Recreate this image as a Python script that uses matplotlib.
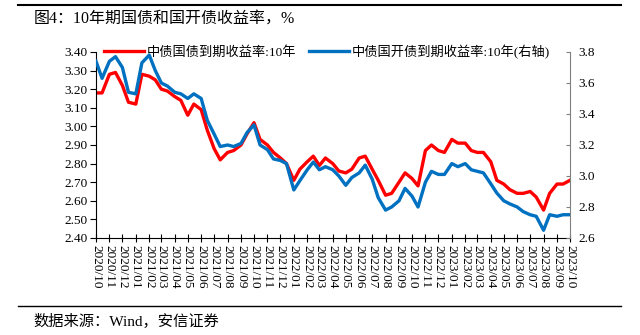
import matplotlib
matplotlib.use("Agg")
import matplotlib.pyplot as plt
import matplotlib.dates as mdates
import pandas as pd

# -----------------------------
# Data (half-month steps)
# -----------------------------
dates = pd.date_range("2020-10-01", "2023-10-01", freq="SMS")

# 中债国债到期收益率:10年 (left axis)
cgb_10y = [3.18, 3.18, 3.28, 3.29, 3.22, 3.13, 3.12, 3.28, 3.27, 3.25,
           3.20, 3.19, 3.16, 3.14, 3.06, 3.12, 3.09, 2.98, 2.88, 2.82,
           2.86, 2.87, 2.90, 2.96, 3.02, 2.93, 2.90, 2.86, 2.83, 2.80,
           2.71, 2.77, 2.81, 2.84, 2.79, 2.83, 2.80, 2.76, 2.75, 2.77,
           2.83, 2.84, 2.77, 2.71, 2.63, 2.64, 2.70, 2.75, 2.72, 2.68,
           2.87, 2.90, 2.87, 2.86, 2.93, 2.91, 2.91, 2.87, 2.86, 2.86,
           2.81, 2.71, 2.69, 2.66, 2.64, 2.64, 2.65, 2.62, 2.55, 2.64,
           2.69, 2.69, 2.71]

# 中债国开债到期收益率:10年 (right axis)
cdb_10y = [3.74, 3.63, 3.74, 3.77, 3.70, 3.54, 3.53, 3.73, 3.78, 3.68,
           3.60, 3.58, 3.54, 3.53, 3.50, 3.53, 3.50, 3.36, 3.27, 3.19,
           3.20, 3.19, 3.21, 3.28, 3.33, 3.20, 3.17, 3.11, 3.10, 3.08,
           2.91, 2.97, 3.04, 3.09, 3.04, 3.06, 3.04, 3.00, 2.94, 2.99,
           3.02, 3.07, 2.98, 2.86, 2.78, 2.80, 2.84, 2.92, 2.87, 2.80,
           2.96, 3.03, 3.01, 3.01, 3.08, 3.06, 3.08, 3.04, 3.03, 3.02,
           2.95, 2.89, 2.84, 2.82, 2.80, 2.77, 2.75, 2.74, 2.65, 2.75,
           2.74, 2.75, 2.75]

TITLE = "图4：10年期国债和国开债收益率，%"
SOURCE = "数据来源：Wind，安信证券"
LABEL_CGB = "中债国债到期收益率:10年"
LABEL_CDB = "中债国开债到期收益率:10年(右轴)"

RED = "#FF0000"
BLUE = "#0070C0"
FONTS = ["Liberation Serif", "Noto Sans CJK SC"]

plt.rcParams["font.family"] = FONTS

# -----------------------------
# Figure
# -----------------------------
fig = plt.figure(figsize=(6.4, 3.35), dpi=100)
ax = fig.add_axes([0.15, 0.2896, 0.7406, 0.5552])
ax2 = ax.twinx()

ln1, = ax.plot(dates, cgb_10y, color=RED, lw=2.4, solid_joinstyle="round")
ln2, = ax2.plot(dates, cdb_10y, color=BLUE, lw=2.4, solid_joinstyle="round")

ax.set_ylim(2.40, 3.40)
ax.set_yticks([2.40 + 0.1 * i for i in range(11)])
ax.yaxis.set_major_formatter(matplotlib.ticker.FormatStrFormatter("%.2f"))
ax2.set_ylim(2.6, 3.8)
ax2.set_yticks([2.6, 2.8, 3.0, 3.2, 3.4, 3.6, 3.8])
ax2.yaxis.set_major_formatter(matplotlib.ticker.FormatStrFormatter("%.1f"))

ax.set_xlim(pd.Timestamp("2020-10-01"), pd.Timestamp("2023-10-01"))
ax.xaxis.set_major_locator(mdates.MonthLocator())
ax.xaxis.set_major_formatter(mdates.DateFormatter("%Y/%m"))

for a in (ax, ax2):
    a.spines["top"].set_visible(False)
ax.spines["right"].set_visible(False)
ax2.spines["left"].set_visible(False)
ax2.spines["bottom"].set_visible(False)
ax2.spines["right"].set_color("#808080")

ax.tick_params(axis="y", direction="out", length=4, width=0.8, labelsize=9.5, pad=2)
ax.tick_params(axis="x", direction="inout", length=6, width=0.8, labelsize=9.5,
               labelrotation=270, pad=2)
ax2.tick_params(axis="y", direction="in", length=3, width=0.8, color="#808080",
                labelsize=9.5, pad=6)

for lbl in ax.get_xticklabels():
    lbl.set_va("top")
    lbl.set_ha("center")

# Legend across the top
fig.legend([ln1, ln2], [LABEL_CGB, LABEL_CDB], loc="center left", ncol=2,
           bbox_to_anchor=(0.163, 0.845), frameon=False,
           handlelength=3.0, handletextpad=0.2, columnspacing=1.0,
           borderaxespad=0, borderpad=0,
           prop={"family": FONTS, "size": 9.5})

# Title / source and separator lines
fig.text(0.052, 0.944, TITLE, fontsize=11.5, va="center", ha="left")
fig.text(0.052, 0.040, SOURCE, fontsize=11, va="center", ha="left")
fig.add_artist(plt.Line2D([0.028, 0.97], [0.985, 0.985], color="black", lw=1.5))
fig.add_artist(plt.Line2D([0.028, 0.97], [0.087, 0.087], color="black", lw=1.0))

fig.savefig("out.png", dpi=100)
